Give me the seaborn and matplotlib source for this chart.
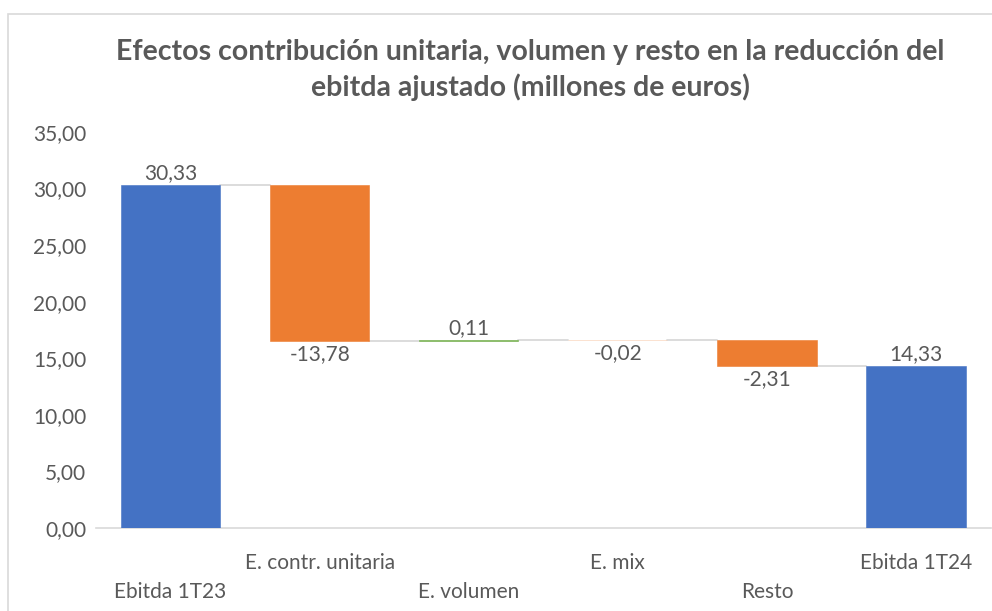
import numpy as np
import pandas as pd
import matplotlib.pyplot as plt
import seaborn as sns
from matplotlib.patches import Rectangle

# Data
categories = ["Ebitda 1T23", "E. contr. unitaria", "E. volumen", "E. mix", "Resto", "Ebitda 1T24"]
changes = [30.33, -13.78, 0.11, -0.02, -2.31, 14.33]
is_total = [True, False, False, False, False, True]
value_labels = ["30,33", "-13,78", "0,11", "-0,02", "-2,31", "14,33"]

# waterfall bases
bottoms = []
running = 0.0
for v, tot in zip(changes, is_total):
    if tot:
        bottoms.append(0.0)
        running = v
    else:
        bottoms.append(running)
        running += v
tops = [b + v for b, v in zip(bottoms, changes)]

df = pd.DataFrame({"cat": categories, "change": changes, "bottom": bottoms})

blue, orange, green = "#4472C4", "#ED7D31", "#70AD47"
colors = [blue if t else (green if v > 0 else orange) for v, t in zip(changes, is_total)]
text_col = "#595959"
fs = 15

sns.set_style("white")
plt.rcParams["font.family"] = ["Lato", "DejaVu Sans"]

fig = plt.figure(figsize=(9.92, 6.11), dpi=100)
ax = fig.add_axes([96 / 992, 1 - 528 / 611, 894.6 / 992, (528 - 132) / 611])

bw = 0.665
sns.barplot(data=df, x="cat", y="change", bottom=df["bottom"].values, width=bw,
            color=blue, ax=ax, zorder=3)
for p, c in zip(ax.patches, colors):
    p.set_facecolor(c)
    p.set_edgecolor(c)
    p.set_linewidth(0.4)
ax.patches[3].set_edgecolor("#F8CBAD")

# connector lines
for i in range(len(categories) - 1):
    level = tops[i]
    ax.plot([i + bw / 2, i + 1 - bw / 2], [level, level], color="#D9D9D9", lw=1.3, zorder=2)

# value labels
for i, (v, lab) in enumerate(zip(changes, value_labels)):
    if v >= 0:
        ax.text(i, tops[i] + 0.15, lab, ha="center", va="bottom", fontsize=fs, color=text_col)
    else:
        ax.text(i, tops[i] - 0.3, lab, ha="center", va="top", fontsize=fs, color=text_col)

ax.set_ylim(0, 35)
ax.set_xlim(-0.5, 5.5)
ax.set_yticks(np.arange(0, 36, 5))
ax.set_yticklabels([f"{t:.2f}".replace(".", ",") for t in np.arange(0, 36, 5)],
                   fontsize=fs, color=text_col)
ax.set_xticks(range(len(categories)))
ax.set_xticklabels([("\n" + c) if i % 2 == 0 else c for i, c in enumerate(categories)],
                   fontsize=fs, color=text_col)
for lab in ax.get_xticklabels():
    lab.set_linespacing(1.55)
ax.tick_params(axis="x", length=0, pad=18)
ax.tick_params(axis="y", length=0, pad=7)
ax.set_xlabel("")
ax.set_ylabel("")
for s in ["top", "right", "left"]:
    ax.spines[s].set_visible(False)
ax.spines["bottom"].set_color("#D9D9D9")
ax.spines["bottom"].set_linewidth(1.2)

fig.text(530 / 992, 1 - 70 / 611, "Efectos contribución unitaria, volumen y resto en la reducción del\nebitda ajustado (millones de euros)",
         ha="center", va="center", fontsize=20.5, fontweight="bold", color=text_col, linespacing=1.4)

# chart border
fig.patches.append(Rectangle((8 / 992, -0.01), 1.0, 1 - 14 / 611 + 0.01, transform=fig.transFigure,
                             fill=False, edgecolor="#D9D9D9", lw=1.2))

fig.savefig("out.png", dpi=100)
